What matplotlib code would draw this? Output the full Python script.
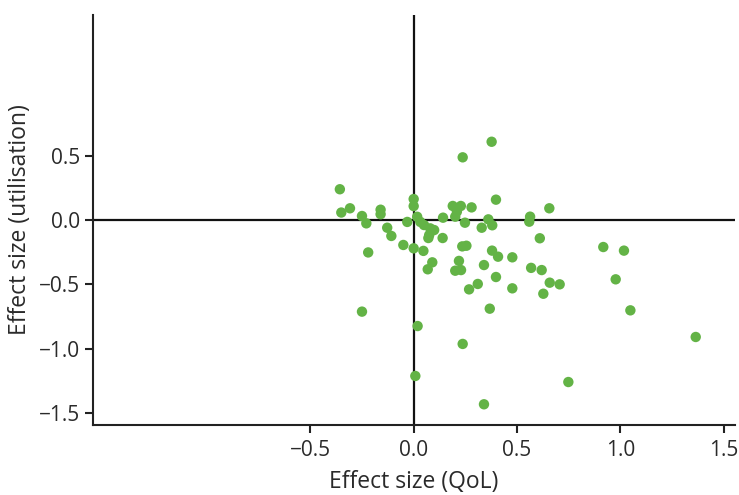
import matplotlib
matplotlib.use("Agg")
import matplotlib.pyplot as plt

# Effect sizes per study: quality of life (x) vs utilisation (y)
qol_effect = [
    0.377, 0.237, -0.357, 0.398, 0.000, 0.000, -0.350, -0.308, -0.160, -0.160,
    -0.250, -0.229, -0.031, 0.017, 0.032, 0.050, -0.128, -0.108, -0.050, 0.000,
    0.047, -0.220, 0.142, 0.189, 0.228, 0.209, 0.201, 0.280, 0.248, 0.329,
    0.361, 0.380, 0.080, 0.099, 0.075, 0.071, 0.140, 0.235, 0.255, 0.379,
    0.408, 0.477, 0.090, 0.068, 0.219, 0.201, 0.229, 0.340, 0.568, 0.619,
    0.398, 0.310, 0.268, 0.477, 0.658, 0.706, 0.627, 0.368, 0.019, 0.563,
    0.559, 0.656, 0.610, 0.917, 1.017, 0.977, 1.048, 1.364, 0.748, -0.250,
    0.237, 0.008, 0.340,
]
utilisation_effect = [
    0.608, 0.487, 0.239, 0.158, 0.163, 0.108, 0.058, 0.091, 0.080, 0.045,
    0.031, -0.026, -0.015, 0.025, -0.015, -0.039, -0.060, -0.124, -0.194, -0.220,
    -0.240, -0.252, 0.018, 0.109, 0.109, 0.065, 0.026, 0.098, -0.021, -0.060,
    0.005, -0.041, -0.065, -0.078, -0.117, -0.140, -0.140, -0.205, -0.200, -0.238,
    -0.285, -0.290, -0.329, -0.383, -0.318, -0.394, -0.389, -0.350, -0.372, -0.389,
    -0.443, -0.497, -0.539, -0.531, -0.487, -0.500, -0.573, -0.689, -0.824, 0.026,
    -0.013, 0.091, -0.142, -0.210, -0.238, -0.461, -0.702, -0.909, -1.259, -0.712,
    -0.963, -1.212, -1.432,
]

x_ticks = [-0.5, 0.0, 0.5, 1.0, 1.5]
x_tick_labels = ["\u22120.5", "0.0", "0.5", "1.0", "1.5"]
y_ticks = [-1.5, -1.0, -0.5, 0.0, 0.5]
y_tick_labels = ["\u22121.5", "\u22121.0", "\u22120.5", "0.0", "0.5"]

plt.rcParams["font.family"] = ["Open Sans", "DejaVu Sans"]
text_color = "#2a2a2a"

fig = plt.figure(figsize=(7.39, 4.95), dpi=100)
ax = fig.add_axes([0.1258, 0.1414, 0.8688, 0.8283])

ax.axhline(0, color="#111111", lw=1.6, zorder=1)
ax.axvline(0, color="#111111", lw=1.6, zorder=1)

ax.scatter(qol_effect, utilisation_effect, s=56, color="#63b346",
           edgecolors="none", zorder=3)

ax.set_xlim(-1.551, 1.554)
ax.set_ylim(-1.593, 1.593)

ax.set_xticks(x_ticks)
ax.set_xticklabels(x_tick_labels)
ax.set_yticks(y_ticks)
ax.set_yticklabels(y_tick_labels)

for side in ("top", "right"):
    ax.spines[side].set_visible(False)
for side in ("left", "bottom"):
    ax.spines[side].set_linewidth(1.5)
    ax.spines[side].set_color("#222222")

ax.tick_params(axis="both", length=6, width=1.5, color="#222222",
               labelsize=15, labelcolor=text_color, pad=3)
ax.tick_params(axis="x", pad=4.5)

ax.set_xlabel("Effect size (QoL)", fontsize=16.5, color=text_color, labelpad=6.5)
ax.set_ylabel("Effect size (utilisation)", fontsize=16.5, color=text_color, labelpad=5)

fig.savefig("out.png", dpi=100)
